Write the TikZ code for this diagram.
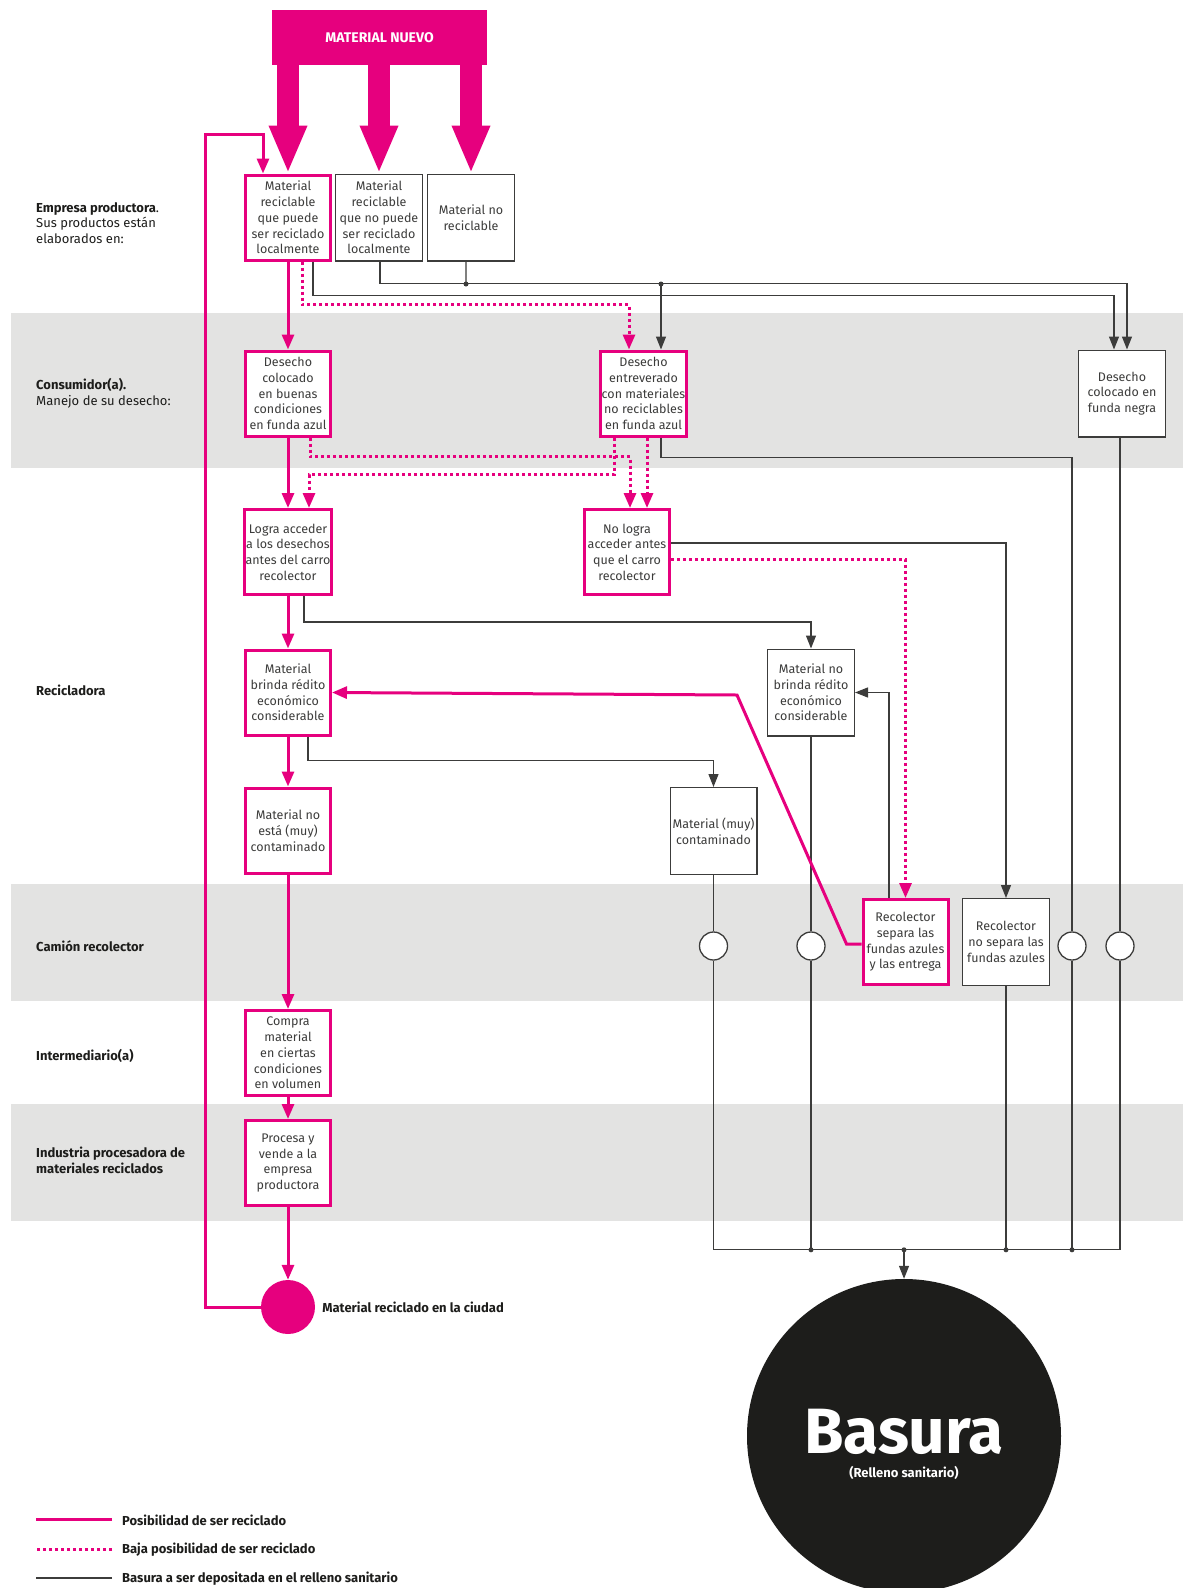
\documentclass[tikz,border=0pt]{standalone}
\usepackage{fontspec}
\setmainfont{Fira Sans}
\usetikzlibrary{arrows.meta,positioning}
\definecolor{rosa}{HTML}{E6007E}
\definecolor{banda}{HTML}{E3E3E2}
\definecolor{trazo}{HTML}{3C3C3B}
\definecolor{negro}{HTML}{1D1D1B}
\tikzset{
  caja/.style={draw=trazo, line width=1.3pt, fill=white, minimum width=86.7pt, minimum height=86.7pt, inner sep=1pt, align=center, text=trazo, font=\fontsize{12.5}{15.7}\selectfont},
  cajarosa/.style={caja, draw=rosa, line width=3pt, minimum width=85pt, minimum height=85pt},
  linea/.style={draw=trazo, line width=1.3pt, >={Triangle[width=10pt,length=13pt]}},
  recic/.style={draw=rosa, line width=3pt, >={Triangle[width=12pt,length=15pt]}},
  baja/.style={recic, dash pattern=on 3pt off 3pt},
  etiqueta/.style={anchor=west, align=left, inner sep=0pt, text=negro, font=\fontsize{13}{15.7}\selectfont},
  leyenda/.style={anchor=west, inner sep=0pt, text=negro, font=\bfseries\fontsize{13}{14}\selectfont},
  ruedita/.style={circle, draw=trazo, line width=1.3pt, fill=white, minimum size=28pt, inner sep=0pt}
}
\begin{document}
\begin{tikzpicture}[x=1pt, y=-1pt]
  \clip (0,0) rectangle (1183,1588);
  \fill[banda] (11,313) rectangle (1183,468);
  \fill[banda] (11,884) rectangle (1183,1001);
  \fill[banda] (11,1104) rectangle (1183,1221);

  \node[etiqueta] (lempresa) at (36,223) {\textbf{Empresa productora}.\\Sus productos están\\elaborados en:};
  \node[etiqueta] (lconsumidor) at (36,393) {\textbf{Consumidor(a).}\\Manejo de su desecho:};
  \node[etiqueta] (lrecicladora) at (36,690) {\textbf{Recicladora}};
  \node[etiqueta] (lcamion) at (36,946) {\textbf{Camión recolector}};
  \node[etiqueta] (lintermediario) at (36,1056) {\textbf{Intermediario(a)}};
  \node[etiqueta] (lindustria) at (36,1160.5) {\textbf{Industria procesadora de}\\\textbf{materiales reciclados}};

  \node[fill=rosa, minimum width=215pt, minimum height=55pt, text=white, font=\bfseries\fontsize{14}{16}\selectfont] (nuevo) at (379.5,37.5) {MATERIAL NUEVO};
  \node[cajarosa] (reclocal) at (288,217.5) {Material\\reciclable\\que puede\\ser reciclado\\localmente};
  \node[caja, right=3pt of reclocal] (recnolocal) {Material\\reciclable\\que no puede\\ser reciclado\\localmente};
  \node[caja, right=4pt of recnolocal] (noreciclable) {Material no\\reciclable};
  \node[cajarosa] (colocado) at (288,393.5) {Desecho\\colocado\\en buenas\\condiciones\\en funda azul};
  \node[cajarosa] (entreverado) at (643.5,393.5) {Desecho\\entreverado\\con materiales\\no reciclables\\en funda azul};
  \node[caja] (negra) at (1122,393.5) {Desecho\\colocado en\\funda negra};
  \node[cajarosa] (logra) at (288,552) {Logra acceder\\a los desechos\\antes del carro\\recolector};
  \node[cajarosa] (nologra) at (627,552) {No logra\\acceder antes\\que el carro\\recolector};
  \node[cajarosa] (brinda) at (288,692.5) {Material\\brinda rédito\\económico\\considerable};
  \node[caja] (nobrinda) at (811,692.5) {Material no\\brinda rédito\\económico\\considerable};
  \node[cajarosa] (noesta) at (288,830.5) {Material no\\está (muy)\\contaminado};
  \node[caja] (contaminado) at (713.5,831) {Material (muy)\\contaminado};
  \node[cajarosa] (separa) at (905.5,942) {Recolector\\separa las\\fundas azules\\y las entrega};
  \node[caja] (nosepara) at (1006,942) {Recolector\\no separa las\\fundas azules};
  \node[cajarosa] (compra) at (288,1053) {Compra\\material\\en ciertas\\condiciones\\en volumen};
  \node[cajarosa] (procesa) at (288,1163) {Procesa y\\vende a la\\empresa\\productora};
  \foreach \n/\x in {c1/713.5,c2/811,c3/1072,c4/1120} \node[ruedita] (\n) at (\x,946) {};
  \node[circle, fill=rosa, minimum size=54pt, inner sep=0pt] (ciudad) at (288,1307) {};
  \node[right=7pt of ciudad, inner sep=0pt, text=negro, font=\bfseries\fontsize{13}{14}\selectfont] (ciudadtxt) {Material reciclado en la ciudad};
  \node[circle, fill=negro, minimum size=314pt, inner sep=0pt] (basura) at (904,1436) {};
  \node[text=white, font=\bfseries\fontsize{64}{64}\selectfont] (basuratxt) at (904,1432) {Basura};
  \node[text=white, font=\bfseries\fontsize{13}{13}\selectfont] (relleno) at (904,1473) {(Relleno sanitario)};

  \foreach \n in {reclocal,recnolocal,noreciclable}
    \draw[rosa, line width=22pt, -{Triangle[width=35pt,length=48pt]}] (\n.north |- nuevo.south) -- (\n.north);

  \coordinate (jA) at (466,284); \coordinate (jB) at (661,284);
  \coordinate (bus) at ([yshift=29pt]basura.north);
  \draw[linea,->] ([xshift=25pt]reclocal.south) -- ++(0,34) -| ([xshift=-8pt]negra.north);
  \draw[linea,->] ([xshift=1pt]recnolocal.south) -- ++(0,22) -| ([xshift=5pt]negra.north);
  \draw[linea] ([xshift=-5pt]noreciclable.south) -- (jA);
  \draw[linea,->] (jB) -- (jB |- entreverado.north);
  \draw[linea] ([xshift=17.5pt]entreverado.south) -- ++(0,20) -| (c3.north);
  \draw[linea] (c4.north |- negra.south) -- (c4.north);
  \draw[linea,->] ([xshift=16pt]logra.south) -- ++(0,26) -| (nobrinda.north);
  \draw[linea,->] ([xshift=20pt]brinda.south) -- ++(0,24) -| (contaminado.north);
  \draw[linea,->] ([yshift=9pt]nologra.east) -| (nosepara.north);
  \draw[linea,->] ([xshift=-16.5pt]separa.north) |- (nobrinda.east);
  \draw[linea] (nobrinda.south) -- (c2.north);
  \draw[linea] (contaminado.south) -- (c1.north);
  \draw[linea] (c1.south) |- (bus);
  \draw[linea] (c4.south) |- (bus);
  \foreach \n in {c2,nosepara,c3} {
    \draw[linea] (\n.south) -- (\n.south |- bus);
    \fill[trazo] (\n.south |- bus) circle (2.5pt);
  }
  \draw[linea,->] (bus) -- (basura.north);
  \foreach \p in {jA,jB,bus} \fill[trazo] (\p) circle (2.5pt);

  \draw[baja,->] ([xshift=14pt]reclocal.south) -- ++(0,43) -| ([xshift=-14.5pt]entreverado.north);
  \draw[baja,->] ([xshift=22pt]colocado.south) -- ++(0,19) -| ([xshift=3pt]nologra.north);
  \draw[baja,->] ([xshift=-29.5pt]entreverado.south) -- ++(0,37) -| ([xshift=21pt]logra.north);
  \draw[baja,->] ([xshift=3.5pt]entreverado.south) -- ([xshift=20pt]nologra.north);
  \draw[baja,->] ([yshift=-7pt]nologra.east) -| (separa.north);

  \foreach \a/\b in {reclocal/colocado,colocado/logra,logra/brinda,brinda/noesta,noesta/compra,compra/procesa,procesa/ciudad}
    \draw[recic,->] (\a.south) -- (\b.north);
  \draw[recic,->] (ciudad.west) -- ++(-55,0) |- ([xshift=-25pt,yshift=39pt]reclocal.north) -- ([xshift=-25pt]reclocal.north);
  \coordinate (quiebre) at (737,695);
  \draw[recic,->] ([yshift=-2pt]separa.west) -- ++(-15,0) -- (quiebre) -- (brinda.east);

  \node[leyenda] (ley1) at (122,1520) {Posibilidad de ser reciclado};
  \node[leyenda] (ley2) at (122,1550) {Baja posibilidad de ser reciclado};
  \node[leyenda] (ley3) at (122,1579) {Basura a ser depositada en el relleno sanitario};
  \draw[recic] ([xshift=-10pt,yshift=1pt]ley1.west) -- ++(-76,0);
  \draw[baja] ([xshift=-10pt,yshift=1pt]ley2.west) -- ++(-76,0);
  \draw[linea, line width=2pt] ([xshift=-10pt,yshift=1pt]ley3.west) -- ++(-76,0);
\end{tikzpicture}
\end{document}
